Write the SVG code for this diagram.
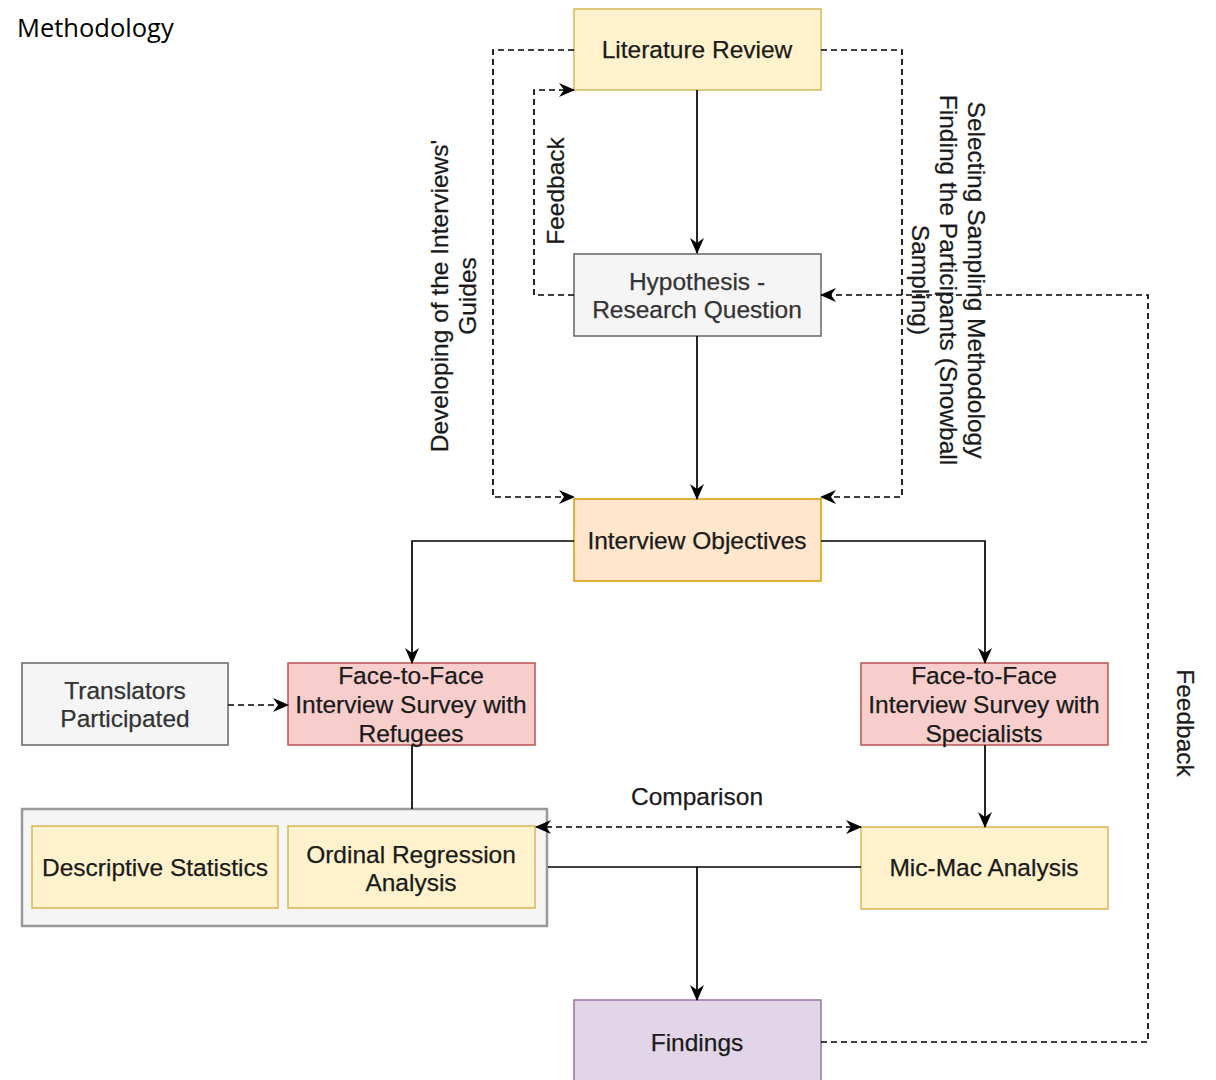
<svg xmlns="http://www.w3.org/2000/svg" width="1216" height="1080" viewBox="0 0 1216 1080">
<defs>
<marker id="arr" viewBox="0 0 16 14" refX="15" refY="7" markerWidth="16" markerHeight="14" markerUnits="userSpaceOnUse" orient="auto-start-reverse">
<path d="M0,0 L16,7 L0,14 L5,7 Z" fill="#000"/>
</marker>
</defs>
<style>
.t{font-family:"Liberation Sans",Arial,Helvetica,sans-serif;font-size:24.5px;fill:#1a1a1a;text-anchor:middle;stroke:#1a1a1a;stroke-width:0.25}
.g{fill:#333;stroke:#333}
.yel{fill:#fff2cc;stroke:#d6b656;stroke-width:1.5}
.org{fill:#ffe6cc;stroke:#d79b00;stroke-width:1.5}
.gry{fill:#f5f5f5;stroke:#666;stroke-width:1.5}
.red{fill:#f8cecc;stroke:#b85450;stroke-width:1.5}
.pur{fill:#e1d5e7;stroke:#9673a6;stroke-width:1.5}
.s{fill:none;stroke:#000;stroke-width:1.7}
.d{fill:none;stroke:#000;stroke-width:1.7;stroke-dasharray:6 4}
</style>
<rect width="1216" height="1080" fill="#fff"/>
<text x="17" y="37" style="font-family:'Open Sans',sans-serif;font-size:25.5px;fill:#000">Methodology</text>

<g id="literature-review">
<rect class="yel" x="574" y="9" width="247" height="81"/>
<text class="t" x="697" y="58">Literature Review</text>
</g>
<g id="hypothesis">
<rect class="gry" x="574" y="254" width="247" height="82"/>
<text class="t g" x="697" y="290">Hypothesis -</text>
<text class="t g" x="697" y="318">Research Question</text>
</g>
<g id="interview-objectives">
<rect class="org" x="574" y="499" width="247" height="82"/>
<text class="t" x="697" y="549">Interview Objectives</text>
</g>
<g id="translators">
<rect class="gry" x="22" y="663" width="206" height="82"/>
<text class="t g" x="125" y="699">Translators</text>
<text class="t g" x="125" y="727">Participated</text>
</g>
<g id="f2f-refugees">
<rect class="red" x="288" y="663" width="247" height="82"/>
<text class="t" x="411" y="684">Face-to-Face</text>
<text class="t" x="411" y="713">Interview Survey with</text>
<text class="t" x="411" y="742">Refugees</text>
</g>
<g id="f2f-specialists">
<rect class="red" x="861" y="663" width="247" height="82"/>
<text class="t" x="984" y="684">Face-to-Face</text>
<text class="t" x="984" y="713">Interview Survey with</text>
<text class="t" x="984" y="742">Specialists</text>
</g>
<g id="analysis-group">
<rect x="22" y="809" width="525" height="117" fill="#f5f5f5" stroke="#999" stroke-width="2.5"/>
<g id="descriptive-statistics">
<rect class="yel" x="32" y="826" width="246" height="82"/>
<text class="t" x="155" y="876">Descriptive Statistics</text>
</g>
<g id="ordinal-regression">
<rect class="yel" x="288" y="826" width="247" height="82"/>
<text class="t" x="411" y="863">Ordinal Regression</text>
<text class="t" x="411" y="891">Analysis</text>
</g>
</g>
<g id="mic-mac">
<rect class="yel" x="861" y="827" width="247" height="82"/>
<text class="t" x="984" y="876">Mic-Mac Analysis</text>
</g>
<g id="findings">
<rect class="pur" x="574" y="1000" width="247" height="82"/>
<text class="t" x="697" y="1051">Findings</text>
</g>

<g id="connectors">
<path class="s" d="M697,90 V253" marker-end="url(#arr)"/>
<path class="s" d="M697,336 V499" marker-end="url(#arr)"/>
<path class="d" d="M574,50 H493 V497 H574" marker-end="url(#arr)"/>
<path class="d" d="M821,50 H902 V497 H821" marker-end="url(#arr)"/>
<path class="d" d="M574,295 H534 V90 H574" marker-end="url(#arr)"/>
<path class="d" d="M821,1042 H1148 V295 H821" marker-end="url(#arr)"/>
<path class="s" d="M574,541 H412 V663" marker-end="url(#arr)"/>
<path class="s" d="M821,541 H985 V663" marker-end="url(#arr)"/>
<path class="d" d="M228,705 H288" marker-end="url(#arr)"/>
<path class="s" d="M412,745 V809"/>
<path class="s" d="M985,745 V827" marker-end="url(#arr)"/>
<path class="d" d="M536,827 H861" marker-start="url(#arr)" marker-end="url(#arr)"/>
<path class="s" d="M548,867 H861"/>
<path class="s" d="M697,867 V1000" marker-end="url(#arr)"/>
<text class="t" transform="translate(448,296) rotate(-90)">Developing of the Interviews'</text>
<text class="t" transform="translate(476,296) rotate(-90)">Guides</text>
<text class="t" transform="translate(564,191) rotate(-90)">Feedback</text>
<text class="t" transform="translate(968,280) rotate(90)">Selecting Sampling Methodology</text>
<text class="t" transform="translate(940,280) rotate(90)">Finding the Participants (Snowball</text>
<text class="t" transform="translate(912,280) rotate(90)">Sampling)</text>
<text class="t" transform="translate(1177,723) rotate(90)">Feedback</text>
<text class="t" x="697" y="805">Comparison</text>
</g>
</svg>
